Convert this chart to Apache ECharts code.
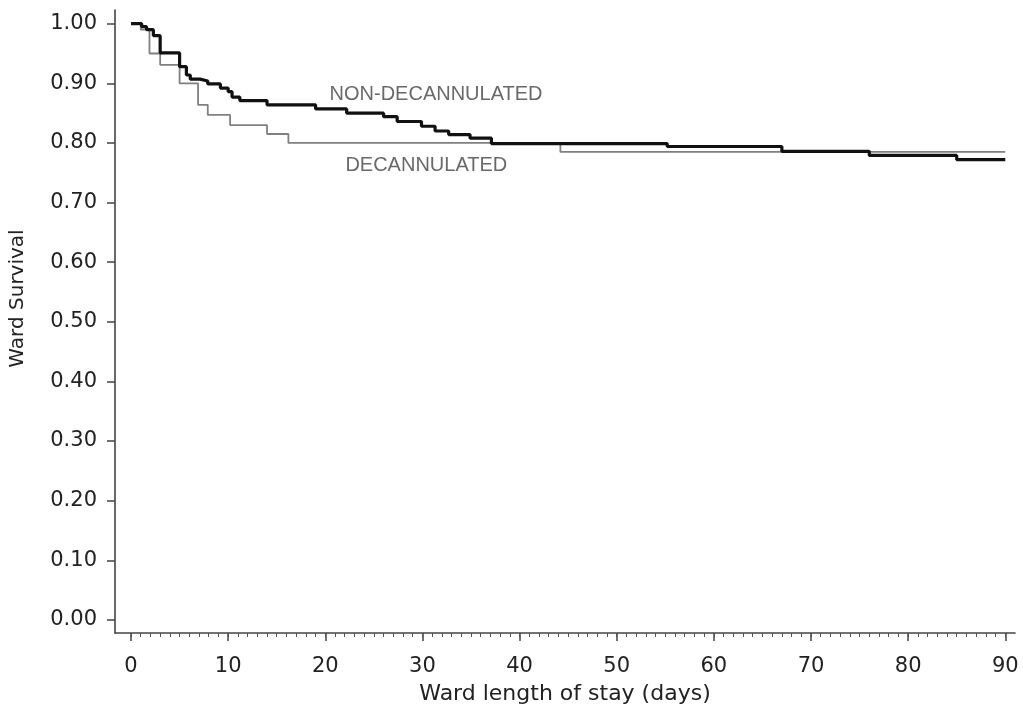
<!DOCTYPE html>
<html>
<head>
<meta charset="utf-8">
<script src="https://cdn.jsdelivr.net/npm/echarts@6/dist/echarts.min.js"></script>
<style>
html,body{margin:0;padding:0;background:#fff;}
#chart{width:1023px;height:707px;}
</style>
</head>
<body>
<div id="chart"></div>
<script>
// Kaplan-Meier step data: [day, survival]
const nonDecannulated = [
  [0,1.0],[1.1,0.995],[1.6,0.99],[2.3,0.98],[3.0,0.951],[5.0,0.928],[5.7,0.914],
  [6.1,0.907],[7.1,0.904],[7.9,0.899],[9.2,0.892],[10.0,0.886],[10.4,0.877],
  [11.2,0.871],[14.0,0.864],[19.0,0.857],[22.2,0.850],[26.0,0.844],[27.4,0.836],
  [29.9,0.828],[31.3,0.820],[32.7,0.814],[34.9,0.808],[37.1,0.799],[55.2,0.794],
  [67.0,0.786],[76.0,0.779],[85.0,0.772],[90.0,0.772]
];
const decannulated = [
  [0,1.0],[1.0,0.99],[1.9,0.95],[3.0,0.931],[5.0,0.90],[6.9,0.864],[7.9,0.847],
  [10.2,0.830],[14.0,0.815],[16.2,0.800],[44.2,0.785],[90.0,0.785]
];
const curveLabels = [
  [31.4, 0.8805, 'NON-DECANNULATED'],
  [30.4, 0.763, 'DECANNULATED']
];
const xTickLabels = [0,10,20,30,40,50,60,70,80,90];
const yTickLabels = [0,0.1,0.2,0.3,0.4,0.5,0.6,0.7,0.8,0.9,1.0];
const xMinorTicks = [];
for (let d = 0; d <= 90; d++) xMinorTicks.push(d);

const FONT = 'DejaVu Sans';
const chart = echarts.init(document.getElementById('chart'));
chart.setOption({
  animation: false,
  backgroundColor: '#fff',
  grid: {left: 115, right: 8, top: 10, bottom: 74, containLabel: false, outerBoundsMode: 'none'},
  xAxis: [{
    type: 'value', min: -1.65, max: 91,
    name: 'Ward length of stay (days)', nameLocation: 'middle', nameGap: 50,
    nameTextStyle: {fontFamily: FONT, fontSize: 22, color: '#222'},
    axisLine: {show: true, onZero: false, lineStyle: {color: '#444', width: 1.6}},
    axisTick: {show: true, customValues: xTickLabels, length: 8, lineStyle: {color: '#444', width: 1.5}},
    axisLabel: {show: true, customValues: xTickLabels, margin: 23, fontFamily: FONT, fontSize: 21, color: '#222'},
    splitLine: {show: false}
  }, {
    type: 'value', min: -1.65, max: 91, position: 'bottom',
    axisLine: {show: false, onZero: false},
    axisTick: {show: true, customValues: xMinorTicks, length: 4, lineStyle: {color: '#555', width: 1}},
    axisLabel: {show: false},
    splitLine: {show: false}
  }],
  yAxis: {
    type: 'value', min: -0.022, max: 1.023,
    name: 'Ward Survival', nameLocation: 'middle', nameGap: 87, nameRotate: 90,
    nameTextStyle: {fontFamily: FONT, fontSize: 20, color: '#222', padding: [0, 0, 0, 46]},
    axisLine: {show: true, onZero: false, lineStyle: {color: '#444', width: 1.6}},
    axisTick: {show: true, customValues: yTickLabels, length: 8, lineStyle: {color: '#444', width: 1.5}},
    axisLabel: {show: true, customValues: yTickLabels, margin: 18, fontFamily: FONT, fontSize: 21, color: '#222',
      formatter: v => v.toFixed(2)},
    splitLine: {show: false}
  },
  series: [{
    name: 'DECANNULATED', type: 'line', step: 'end', data: decannulated,
    showSymbol: false, silent: true,
    lineStyle: {color: '#808080', width: 1.8}
  }, {
    name: 'NON-DECANNULATED', type: 'line', step: 'end', data: nonDecannulated,
    showSymbol: false, silent: true,
    lineStyle: {color: '#111', width: 3.2}
  }, {
    type: 'scatter', data: curveLabels, symbolSize: 0, silent: true,
    label: {show: true, position: 'inside', formatter: p => p.value[2],
      fontFamily: 'Liberation Sans', fontSize: 20, color: '#444'}
  }]
});
</script>
</body>
</html>
